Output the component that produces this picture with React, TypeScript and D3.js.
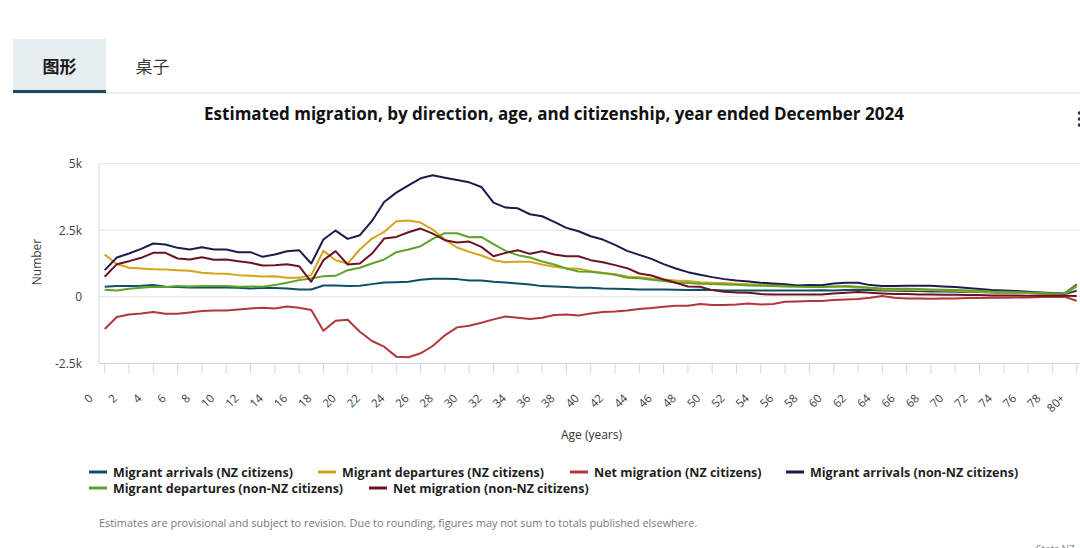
import React from "react";
import * as d3 from "d3";

const ages: string[] = [...Array.from({ length: 80 }, (_, i) => String(i)), "80+"];

const nzArrivals = [375,400,400,413,438,375,363,350,350,350,350,338,313,325,325,313,275,275,425,425,400,413,475,538,550,563,638,675,675,663,613,613,563,538,500,463,400,388,363,340,338,313,300,288,275,275,275,263,250,263,250,240,238,238,238,238,238,238,238,245,238,250,263,250,238,225,213,213,200,200,188,175,175,163,150,150,138,125,113,100,225];
const nzDepartures = [1588,1225,1088,1063,1038,1025,1000,975,900,875,863,813,788,763,775,713,713,813,1725,1375,1250,1775,2188,2438,2838,2863,2788,2525,2150,1850,1688,1550,1375,1300,1313,1313,1213,1125,1075,1050,963,900,850,763,738,688,650,613,588,550,525,513,488,475,463,450,425,413,400,390,375,375,350,325,275,260,263,250,250,238,225,200,188,175,163,150,138,125,113,113,375];
const nzNet = [-1213,-763,-663,-625,-575,-638,-638,-588,-538,-513,-513,-475,-438,-413,-438,-363,-413,-500,-1275,-900,-863,-1313,-1663,-1875,-2250,-2275,-2125,-1850,-1450,-1150,-1088,-975,-850,-738,-788,-838,-788,-688,-663,-700,-625,-575,-550,-513,-463,-425,-375,-338,-338,-275,-313,-313,-288,-250,-288,-275,-188,-175,-163,-160,-125,-100,-88,-38,25,-38,-63,-63,-75,-63,-63,-50,-50,-38,-38,-25,-25,-13,-13,0,-150];
const otherArrivals = [1000,1475,1625,1800,2000,1963,1838,1775,1863,1775,1775,1675,1675,1500,1588,1713,1750,1250,2150,2488,2175,2313,2850,3563,3913,4188,4450,4563,4475,4388,4300,4125,3538,3350,3325,3100,3025,2813,2588,2463,2275,2150,1950,1725,1575,1425,1225,1063,925,825,738,663,613,575,525,500,475,425,438,430,500,525,525,438,400,400,413,413,413,388,363,325,288,250,238,213,188,163,138,125,460];
const otherDepartures = [263,238,300,338,375,363,400,388,400,400,400,375,388,375,438,525,625,688,775,788,1000,1088,1250,1400,1675,1775,1900,2175,2388,2388,2238,2250,1975,1725,1563,1475,1325,1213,1063,950,938,888,825,713,700,638,588,538,513,488,475,463,450,425,413,400,388,375,363,363,388,400,375,338,313,300,300,288,275,263,250,238,225,200,188,175,163,150,125,125,430];
const otherNet = [750,1225,1338,1463,1650,1650,1438,1400,1488,1388,1400,1338,1275,1175,1188,1225,1150,563,1375,1713,1213,1250,1625,2188,2250,2425,2563,2375,2125,2038,2075,1875,1525,1650,1750,1613,1713,1588,1525,1525,1375,1300,1188,1075,875,800,650,525,388,375,250,188,163,150,100,88,88,88,88,88,125,150,175,150,125,100,100,88,88,75,75,63,63,50,50,50,38,38,38,38,30];

const seriesNames = [
  "Migrant arrivals (NZ citizens)",
  "Migrant departures (NZ citizens)",
  "Net migration (NZ citizens)",
  "Migrant arrivals (non-NZ citizens)",
  "Migrant departures (non-NZ citizens)",
  "Net migration (non-NZ citizens)",
];
const seriesValues = [nzArrivals, nzDepartures, nzNet, otherArrivals, otherDepartures, otherNet];
const seriesColors = ["#0d4f63", "#d6a31c", "#b0383d", "#1c1b4d", "#5ea22c", "#6a1422"];

const yTicks = [-2500, 0, 2500, 5000];
const yTickLabels = ["-2.5k", "0", "2.5k", "5k"];

const FONT = "'Open Sans', Lato, sans-serif";

export default function App() {
  const W = 1080;
  const H = 548;
  const x = d3.scalePoint<string>().domain(ages).range([104.7, 1076.7]);
  const y = d3.scaleLinear().domain([-2500, 5000]).range([363.3, 163.7]);
  const line = d3
    .line<number>()
    .x((_, i) => x(ages[i]) as number)
    .y((d) => y(d));

  const legendPos = [
    [89, 472],
    [318, 472],
    [570, 472],
    [786, 472],
    [89, 488],
    [369, 488],
  ];

  return (
    <div style={{ position: "fixed", left: 0, top: 0, width: W, height: H, background: "#fff" }}>
      <svg width={W} height={H} style={{ display: "block", fontFamily: FONT }}>
        {/* tabs */}
        <rect x={13} y={39} width={93} height={53} fill="#e7eef2" />
        <rect x={13} y={92} width={1067} height={1.5} fill="#e6e6e6" />
        <rect x={13} y={90} width={93} height={3} fill="#1b4c5c" />
        <text x={59.5} y={73} textAnchor="middle" fontSize={17} fontWeight={700} fill="#1a1a1a" fontFamily="'Noto Sans CJK SC', sans-serif">图形</text>
        <text x={152.5} y={73} textAnchor="middle" fontSize={17} fill="#3a3a3a" fontFamily="'Noto Sans CJK SC', sans-serif">桌子</text>

        {/* title */}
        <text x={554} y={120} textAnchor="middle" fontSize={17} fontWeight={700} fill="#111">
          Estimated migration, by direction, age, and citizenship, year ended December 2024
        </text>
        {/* menu dots */}
        {[113, 119, 125].map((cy) => (
          <circle key={cy} cx={1079.5} cy={cy} r={1.8} fill="#2d3540" />
        ))}

        {/* grid */}
        {yTicks.slice(1).map((t) => (
          <line key={t} x1={99} x2={W} y1={y(t)} y2={y(t)} stroke="#e3e3e3" strokeWidth={1} />
        ))}
        <line x1={99} x2={99} y1={163.7} y2={363.3} stroke="#ccd6eb" strokeWidth={1} />
        <line x1={99} x2={W} y1={363.5} y2={363.5} stroke="#ccd6eb" strokeWidth={1} />
        {ages.map((a, i) =>
          i % 2 === 0 ? (
            <line key={a} x1={x(a)} x2={x(a)} y1={363.5} y2={373.5} stroke="#ccd6eb" strokeWidth={1} />
          ) : null
        )}

        {/* y tick labels */}
        {yTicks.map((t, i) => (
          <text key={t} x={82} y={y(t) + 4.5} textAnchor="end" fontSize={12} fill="#404040">
            {yTickLabels[i]}
          </text>
        ))}
        <text transform="translate(41,262) rotate(-90)" textAnchor="middle" fontSize={12} fill="#404040">
          Number
        </text>

        {/* x tick labels */}
        {ages.map((a, i) =>
          i % 2 === 0 ? (
            <text
              key={a}
              transform={`translate(${(x(a) as number) - 11},${399}) rotate(-45)`}
              textAnchor="end"
              fontSize={11.5}
              fill="#34404f"
            >
              {a}
            </text>
          ) : null
        )}
        <text x={591.5} y={439} textAnchor="middle" fontSize={12} fill="#333">
          Age (years)
        </text>

        {/* lines */}
        {seriesValues.map((vals, si) => (
          <path key={si} d={line(vals) || ""} fill="none" stroke={seriesColors[si]} strokeWidth={2} strokeLinejoin="round" />
        ))}

        {/* legend */}
        {seriesNames.map((n, i) => (
          <g key={n}>
            <line x1={legendPos[i][0]} x2={legendPos[i][0] + 18} y1={legendPos[i][1]} y2={legendPos[i][1]} stroke={seriesColors[i]} strokeWidth={3} />
            <text x={legendPos[i][0] + 24} y={legendPos[i][1] + 4.5} fontSize={12.5} fontWeight={700} fill="#1f1f1f">
              {n}
            </text>
          </g>
        ))}

        {/* footnote */}
        <text x={99} y={527} fontSize={10.9} fill="#777">
          Estimates are provisional and subject to revision. Due to rounding, figures may not sum to totals published elsewhere.
        </text>
        <text x={1036} y={553} fontSize={10} fill="#888">Stats NZ</text>
      </svg>
    </div>
  );
}
